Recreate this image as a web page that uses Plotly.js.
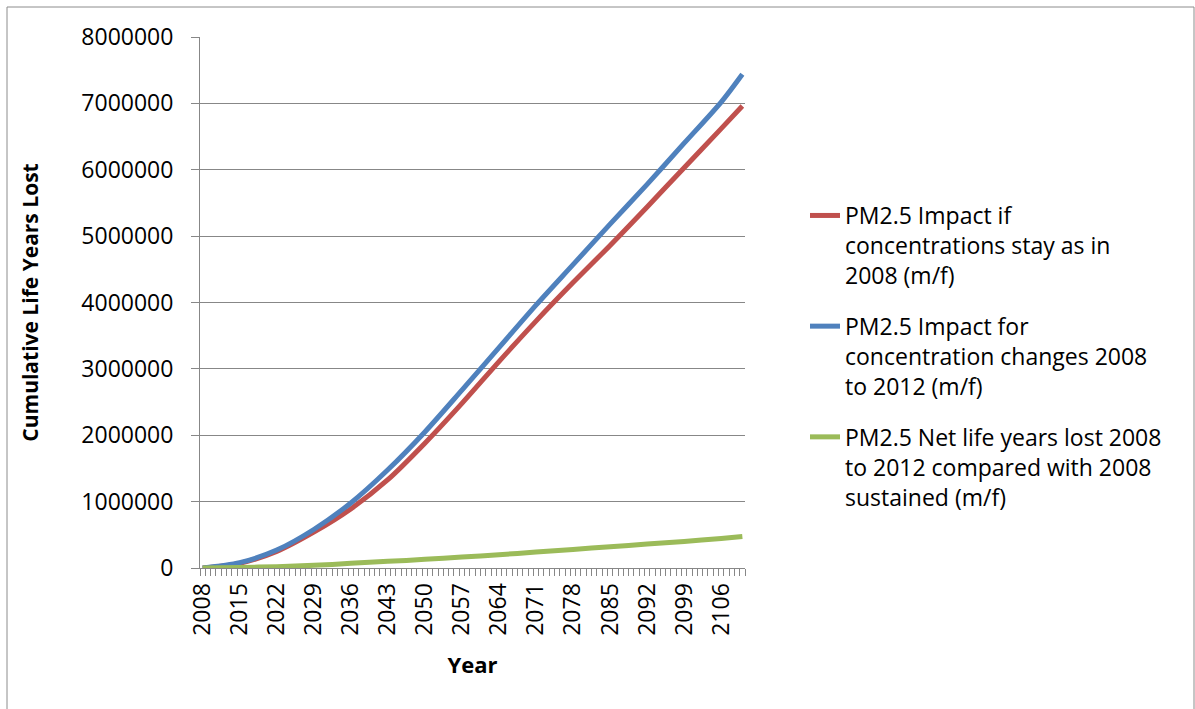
<!DOCTYPE html>
<html>
<head>
<meta charset="utf-8">
<script src="https://cdn.plot.ly/plotly-3.0.1.min.js"></script>
<style>
  html, body { margin: 0; padding: 0; background: #ffffff; }
  #chart { width: 1195px; height: 709px; }
</style>
</head>
<body>
<div id="chart"></div>
<script>
// Years read at the labelled ticks (plus the final year)
const years = [2008, 2015, 2022, 2029, 2036, 2043, 2050, 2057, 2064, 2071, 2078, 2085, 2092, 2099, 2106, 2110];

// PM2.5 Impact if concentrations stay as in 2008 (m/f)
const impactSustained = [0, 70000, 250000, 540000, 890000, 1330000, 1880000, 2480000, 3110000, 3720000, 4300000, 4860000, 5440000, 6030000, 6620000, 6960000];

// PM2.5 Impact for concentration changes 2008 to 2012 (m/f)
const impactChanges = [0, 80000, 270000, 580000, 980000, 1480000, 2050000, 2680000, 3320000, 3960000, 4570000, 5180000, 5780000, 6400000, 7020000, 7440000];

// PM2.5 Net life years lost 2008 to 2012 compared with 2008 sustained (m/f)
const netLost = [0, 8000, 20000, 40000, 70000, 100000, 130000, 165000, 200000, 240000, 280000, 320000, 360000, 400000, 445000, 475000];

const seriesNames = [
  "PM2.5 Impact if<br>concentrations stay as in<br>2008 (m/f)",
  "PM2.5 Impact for<br>concentration changes 2008<br>to 2012 (m/f)",
  "PM2.5 Net life years lost 2008<br>to 2012 compared with 2008<br>sustained (m/f)"
];
const seriesColors = ["#C0504D", "#4F81BD", "#9BBB59"];
const seriesValues = [impactSustained, impactChanges, netLost];

const FONT = "Open Sans, Noto Sans, sans-serif";
const GRID = "#878787";

const traces = seriesValues.map((vals, i) => ({
  type: "scatter",
  mode: "lines",
  x: years,
  y: vals,
  name: seriesNames[i],
  legendgroup: "g" + i,
  line: { color: seriesColors[i], width: 5, shape: "spline", smoothing: 0.8 },
  hoverinfo: "x+y"
}));

// plot area in pixels: x 200..745, y 37..568
const L = 200, R = 745, T = 37, B = 568;
const W = R - L, H = B - T;
const px = v => (v - L) / W;
const py = v => (B - v) / H;

const layout = {
  width: 1195,
  height: 709,
  margin: { l: L, r: 1195 - R, t: T, b: 709 - B, pad: 0 },
  paper_bgcolor: "#ffffff",
  plot_bgcolor: "#ffffff",
  font: { family: FONT, color: "#000000", size: 23 },
  showlegend: true,
  xaxis: {
    type: "linear",
    range: [2007.5, 2110.5],
    tick0: 2008,
    dtick: 7,
    tickmode: "linear",
    tickangle: -90,
    tickformat: "d",
    ticks: "",
    showgrid: false,
    zeroline: false,
    showline: true,
    linecolor: GRID,
    linewidth: 1,
    tickfont: { family: FONT, size: 23, color: "#000" },
    ticklabelstandoff: 5,
    minor: {
      ticks: "outside",
      tick0: 2007.5,
      dtick: 1,
      ticklen: 7,
      tickcolor: GRID,
      tickwidth: 1,
      showgrid: false
    },
    title: { text: "<b>Year</b>", font: { family: FONT, size: 22, color: "#000" }, standoff: 22 },
    fixedrange: true
  },
  yaxis: {
    range: [0, 8000000],
    tick0: 0,
    dtick: 1000000,
    tickmode: "linear",
    tickformat: "d",
    ticks: "outside",
    ticklen: 8,
    tickcolor: GRID,
    tickwidth: 1,
    showgrid: true,
    gridcolor: GRID,
    gridwidth: 1,
    zeroline: false,
    showline: true,
    linecolor: GRID,
    linewidth: 1,
    tickfont: { family: FONT, size: 23, color: "#000" },
    ticklabelstandoff: 13,
    title: { text: "<b>Cumulative Life Years Lost</b>", font: { family: FONT, size: 21, color: "#000" }, standoff: 36 },
    fixedrange: true
  },
  legend: {
    x: px(805),
    y: py(194),
    xanchor: "left",
    yanchor: "top",
    valign: "top",
    traceorder: "grouped",
    tracegroupgap: 18,
    font: { family: FONT, size: 23, color: "#000" },
    bgcolor: "rgba(0,0,0,0)",
    borderwidth: 0
  },
  shapes: [
    {
      type: "rect",
      xref: "paper", yref: "paper",
      x0: px(7), x1: px(1194),
      y0: py(715), y1: py(7),
      line: { color: "#8c8c8c", width: 1 },
      fillcolor: "rgba(0,0,0,0)",
      layer: "below"
    }
  ]
};

Plotly.newPlot("chart", traces, layout, { displayModeBar: false, staticPlot: true });
</script>
</body>
</html>
